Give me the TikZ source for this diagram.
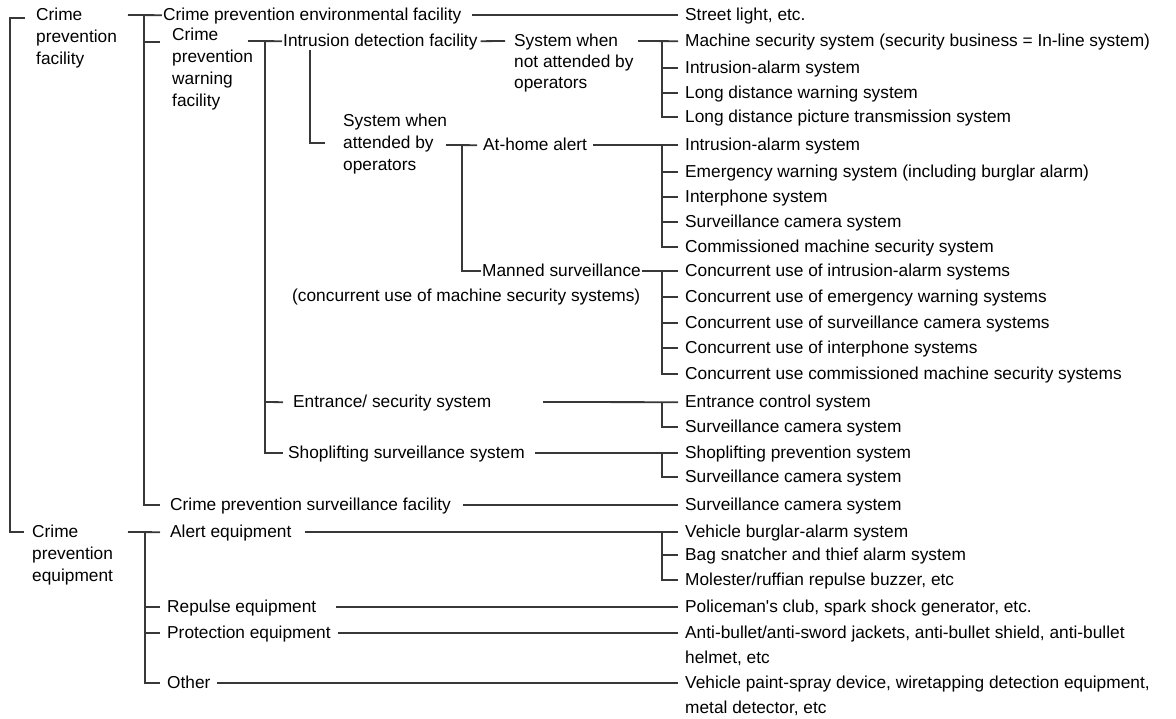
\documentclass[tikz,border=0pt]{standalone}
\usepackage{fontspec}
\setmainfont{Liberation Sans}
\begin{document}
\begin{tikzpicture}[x=1pt,y=-1pt,
  ln/.style={line width=1.8pt, draw=black!78},
  t/.style={anchor=north west, inner sep=0pt, yshift=7.25pt, text height=12.5pt, text depth=2pt, font=\fontsize{17.3}{22}\selectfont},
  tm/.style={anchor=north west, inner sep=0pt, yshift=7.25pt, align=left, font=\fontsize{17.3}{22}\selectfont},
  tg/.style={tm, font=\fontsize{17.3}{21}\selectfont},
  tw/.style={tm, font=\fontsize{17.3}{25}\selectfont}]
\useasboundingbox (0,0) rectangle (1176,719);

% ---- left column
\node[tm] (A) at (36,15) {Crime\\prevention\\facility};
\node[tm] (B) at (32,532) {Crime\\prevention\\equipment};

% ---- level 1
\node[t]  (C) at (163,15) {Crime prevention environmental facility};
\node[tm] (D) at (172,35) {Crime\\prevention\\warning\\facility};
\node[t]  (E) at (170,505) {Crime prevention surveillance facility};
\node[t]  (M) at (170,532) {Alert equipment};
\node[t]  (N) at (167,607) {Repulse equipment};
\node[t]  (O) at (167,633) {Protection equipment};
\node[t]  (P) at (167,683) {Other};

% ---- level 2
\node[t] (F) at (283,41) {Intrusion detection facility};
\node[t] (K) at (293,402) {Entrance/ security system};
\node[t] (L) at (288,453) {Shoplifting surveillance system};

% ---- level 3
\node[tg] (G) at (514,41) {System when\\not attended by\\operators};
\node[tm] (H) at (343,121) {System when\\attended by\\operators};
\node[t]  (I) at (483,145) {At-home alert};
\node[t]  (J) at (482,271) {Manned surveillance};
\node[t]  (J2) at (292,296) {(concurrent use of machine security systems)};

% ---- right column
\node[t] (r1)  at (685,15)  {Street light, etc.};
\node[t] (r2)  at (685,41)  {Machine security system (security business = In-line system)};
\node[t] (r3)  at (685,68)  {Intrusion-alarm system};
\node[t] (r4)  at (685,93)  {Long distance warning system};
\node[t] (r5)  at (685,117) {Long distance picture transmission system};
\node[t] (r6)  at (685,145) {Intrusion-alarm system};
\node[t] (r7)  at (685,172) {Emergency warning system (including burglar alarm)};
\node[t] (r8)  at (685,197) {Interphone system};
\node[t] (r9)  at (685,222) {Surveillance camera system};
\node[t] (r10) at (685,247) {Commissioned machine security system};
\node[t] (r11) at (685,271) {Concurrent use of intrusion-alarm systems};
\node[t] (r12) at (685,297) {Concurrent use of emergency warning systems};
\node[t] (r13) at (685,323) {Concurrent use of surveillance camera systems};
\node[t] (r14) at (685,348) {Concurrent use of interphone systems};
\node[t] (r15) at (685,374) {Concurrent use commissioned machine security systems};
\node[t] (r16) at (685,402) {Entrance control system};
\node[t] (r17) at (685,427) {Surveillance camera system};
\node[t] (r18) at (685,453) {Shoplifting prevention system};
\node[t] (r19) at (685,477) {Surveillance camera system};
\node[t] (r20) at (685,505) {Surveillance camera system};
\node[t] (r21) at (685,532) {Vehicle burglar-alarm system};
\node[t] (r22) at (685,555) {Bag snatcher and thief alarm system};
\node[t] (r23) at (685,580) {Molester/ruffian repulse buzzer, etc};
\node[t] (r24) at (685,607) {Policeman\textquotesingle s club, spark shock generator, etc.};
\node[tw] (r25) at (685,633) {Anti-bullet/anti-sword jackets, anti-bullet shield, anti-bullet\\helmet, etc};
\node[tw] (r27) at (685,683) {Vehicle paint-spray device, wiretapping detection equipment,\\metal detector, etc};

\coordinate (r25in) at (O.east -| r25.west);
\coordinate (r27in) at (P.east -| r27.west);

% ---- connectors
% outer bracket
\draw[ln] (25,18) -| (10,532) -- (24,532);
% facility branch
\draw[ln] (128,15) -- ([xshift=-1pt]C.west);
\draw[ln] (144,15) |- ([xshift=-10pt]E.west);
\draw[ln] (144,42) -- (160,42);
\draw[ln] ([xshift=11pt]C.east) -- ([xshift=-7pt]r1.west);
% warning facility branch
\draw[ln] (248,41) -- ([xshift=-1pt]F.west);
\draw[ln] (265,41) |- ([xshift=-5pt]L.west);
\draw[ln] (265,402) -- ([xshift=-10pt]K.west);
% intrusion detection
\draw[ln] ([xshift=3pt]F.east) -- (505,41);
\draw[ln] (638,41) -- ([xshift=-7pt]r2.west);
\draw[ln] (662,41) |- ([xshift=-7pt]r5.west);
\foreach \r in {r3,r4} \draw[ln] ([xshift=-23pt]\r.west) -- ([xshift=-7pt]\r.west);
\draw[ln] (310,50) |- (325,143);
% attended
\draw[ln] (446,145) -- ([xshift=-6pt]I.west);
\draw[ln] (462,145) |- ([xshift=-1pt]J.west);
\draw[ln] ([xshift=6pt]I.east) -- ([xshift=-7pt]r6.west);
\draw[ln] (662,145) |- ([xshift=-7pt]r10.west);
\foreach \r in {r7,r8,r9} \draw[ln] ([xshift=-23pt]\r.west) -- ([xshift=-7pt]\r.west);
% manned
\draw[ln] ([xshift=1pt]J.east) -- ([xshift=-7pt]r11.west);
\draw[ln] (662,271) |- ([xshift=-7pt]r15.west);
\foreach \r in {r12,r13,r14} \draw[ln] ([xshift=-23pt]\r.west) -- ([xshift=-7pt]\r.west);
% entrance
\draw[ln] (543,402) -- ([xshift=-7pt]r16.west);
\draw[ln] (662,402) |- ([xshift=-7pt]r17.west);
% shoplifting
\draw[ln] ([xshift=10pt]L.east) -- ([xshift=-7pt]r18.west);
\draw[ln] (662,453) |- ([xshift=-7pt]r19.west);
% surveillance facility
\draw[ln] ([xshift=12pt]E.east) -- ([xshift=-7pt]r20.west);
% equipment branch
\draw[ln] (128,532) -- ([xshift=-10pt]M.west);
\draw[ln] (145,532) |- ([xshift=-7pt]P.west);
\foreach \r in {N,O} \draw[ln] (145,0 |- \r.west) -- ([xshift=-7pt]\r.west);
\draw[ln] ([xshift=13pt]M.east) -- ([xshift=-7pt]r21.west);
\draw[ln] (662,532) |- ([xshift=-7pt]r23.west);
\draw[ln] ([xshift=-23pt]r22.west) -- ([xshift=-7pt]r22.west);
\draw[ln] ([xshift=20pt]N.east) -- ([xshift=-7pt]r24.west);
\draw[ln] ([xshift=7pt]O.east) -- ([xshift=-7pt]r25in);
\draw[ln] ([xshift=6pt]P.east) -- ([xshift=-7pt]r27in);
\end{tikzpicture}
\end{document}
